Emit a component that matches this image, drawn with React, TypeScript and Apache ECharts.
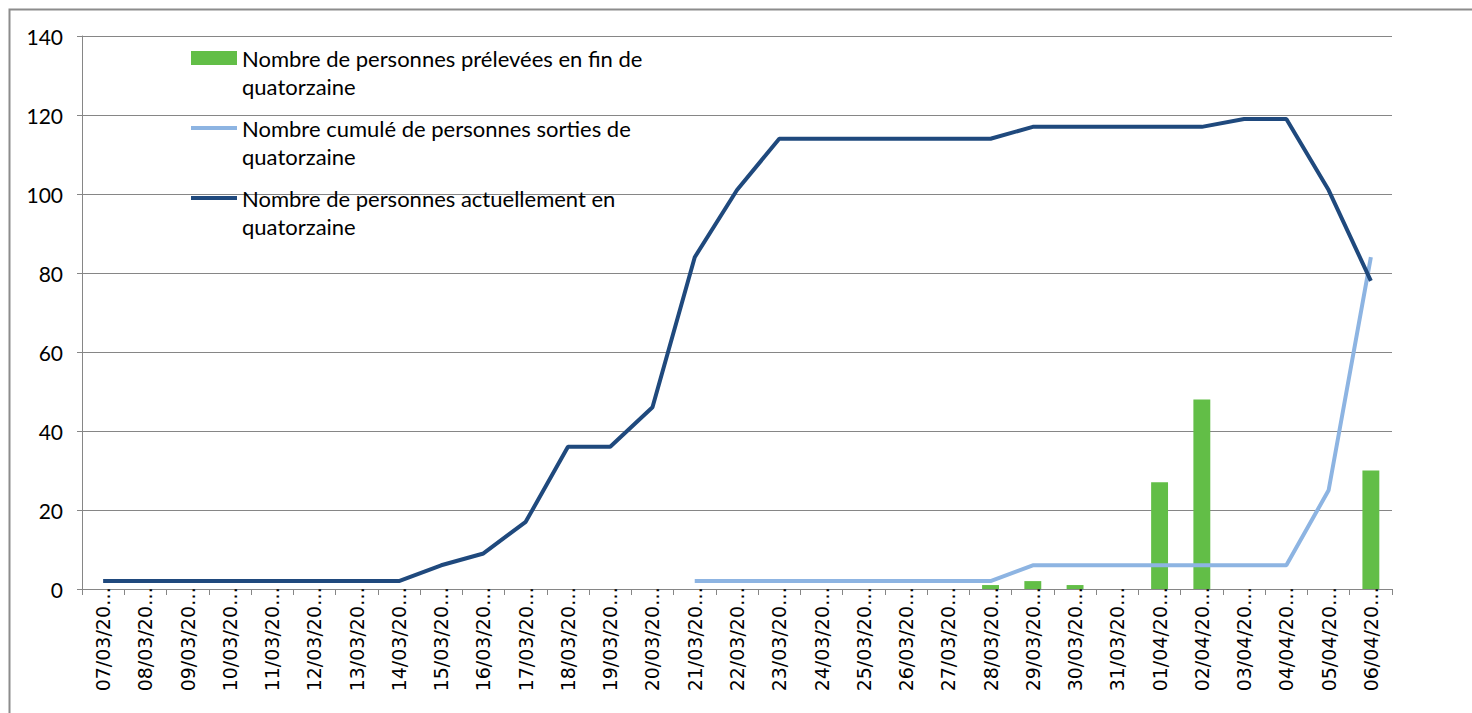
import React, { useEffect, useRef } from "react";
import * as echarts from "echarts";

const categories = [
  "07/03/2020", "08/03/2020", "09/03/2020", "10/03/2020", "11/03/2020", "12/03/2020",
  "13/03/2020", "14/03/2020", "15/03/2020", "16/03/2020", "17/03/2020", "18/03/2020",
  "19/03/2020", "20/03/2020", "21/03/2020", "22/03/2020", "23/03/2020", "24/03/2020",
  "25/03/2020", "26/03/2020", "27/03/2020", "28/03/2020", "29/03/2020", "30/03/2020",
  "31/03/2020", "01/04/2020", "02/04/2020", "03/04/2020", "04/04/2020", "05/04/2020",
  "06/04/2020",
];

const prelevees = [
  null, null, null, null, null, null, null, null, null, null, null, null, null, null,
  null, null, null, null, null, null, null, 1, 2, 1, null, 27, 48, null, null, null, 30,
];

const sorties = [
  null, null, null, null, null, null, null, null, null, null, null, null, null, null,
  2, 2, 2, 2, 2, 2, 2, 2, 6, 6, 6, 6, 6, 6, 6, 25, 84,
];

const actuellement = [
  2, 2, 2, 2, 2, 2, 2, 2, 6, 9, 17, 36, 36, 46, 84, 101, 114, 114, 114, 114, 114, 114,
  117, 117, 117, 117, 117, 119, 119, 101, 78,
];

const seriesNames = [
  "Nombre de personnes prélevées en fin de quatorzaine",
  "Nombre cumulé de personnes sorties de quatorzaine",
  "Nombre de personnes actuellement en quatorzaine",
];

const yTicks = { min: 0, max: 140, interval: 20 };

const lineIcon =
  "path://M0,0 L0.01,0 L0.01,0.01 Z M0,5 L46,5 L46,9 L0,9 Z M0,14 L0.01,14 L0.01,13.99 Z";

export default function App() {
  const ref = useRef<HTMLDivElement>(null);
  useEffect(() => {
    document.body.style.margin = "0";
    const chart = echarts.init(ref.current!, null, { renderer: "svg" });
    chart.setOption({
      animation: false,
      backgroundColor: "#ffffff",
      graphic: [
        {
          type: "rect",
          left: 7,
          top: 7,
          shape: { width: 1520, height: 760 },
          style: { fill: "none", stroke: "#8c8c8c", lineWidth: 2 },
          silent: true,
        },
      ],
      grid: { left: 82, top: 36, right: 80, bottom: 124, containLabel: false },
      legend: {
        orient: "vertical",
        left: 186,
        top: 11,
        itemWidth: 46,
        itemHeight: 14,
        itemGap: -14,
        textStyle: {
          fontFamily: "Lato",
          fontSize: 22,
          color: "#000",
          lineHeight: 28,
        },
        formatter: (name: string) => "\n" + name.replace(" quatorzaine", "\nquatorzaine"),
        data: [
          { name: seriesNames[0], icon: "rect" },
          { name: seriesNames[1], icon: lineIcon },
          { name: seriesNames[2], icon: lineIcon },
        ],
      },
      xAxis: {
        type: "category",
        data: categories,
        boundaryGap: true,
        axisLine: { lineStyle: { color: "#868686", width: 1 } },
        axisTick: { show: true, alignWithLabel: false, length: 6, lineStyle: { color: "#868686" } },
        axisLabel: {
          rotate: 90,
          interval: 0,
          margin: -2,
          fontFamily: "DejaVu Sans",
          fontSize: 19,
          color: "#000",
          formatter: (v: string) => v.slice(0, 8) + "…",
        },
      },
      yAxis: {
        type: "value",
        min: yTicks.min,
        max: yTicks.max,
        interval: yTicks.interval,
        axisLine: { show: true, lineStyle: { color: "#868686", width: 1 } },
        axisTick: { show: true, length: 5, lineStyle: { color: "#868686" } },
        splitLine: { show: true, lineStyle: { color: "#868686", width: 1 } },
        axisLabel: {
          margin: 19,
          fontFamily: "Lato",
          fontSize: 21,
          color: "#000",
        },
      },
      series: [
        {
          name: seriesNames[0],
          type: "bar",
          data: prelevees,
          barWidth: "40%",
          itemStyle: { color: "#62BE47" },
        },
        {
          name: seriesNames[1],
          type: "line",
          data: sorties,
          symbol: "none",
          lineStyle: { color: "#8DB4E2", width: 4 },
          itemStyle: { color: "#8DB4E2" },
        },
        {
          name: seriesNames[2],
          type: "line",
          data: actuellement,
          symbol: "none",
          lineStyle: { color: "#1F497D", width: 4 },
          itemStyle: { color: "#1F497D" },
        },
      ],
    });
    return () => chart.dispose();
  }, []);
  return <div ref={ref} style={{ width: 1472, height: 713 }} />;
}
